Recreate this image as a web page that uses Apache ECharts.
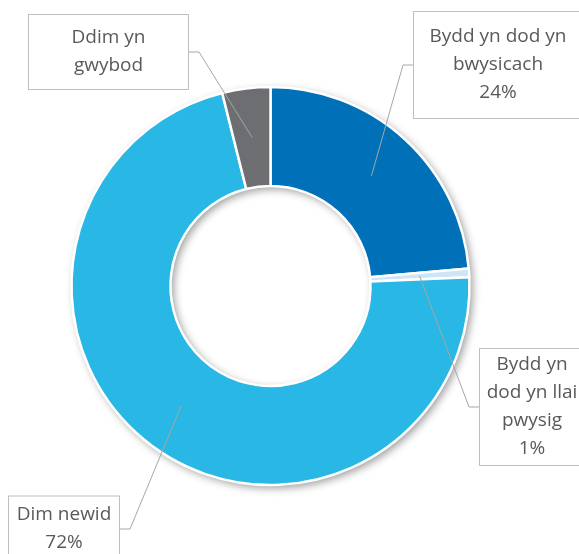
<!DOCTYPE html>
<html><head><meta charset="utf-8">
<script src="https://cdn.jsdelivr.net/npm/echarts@6/dist/echarts.min.js"></script>
<style>html,body{margin:0;padding:0;background:#fff}#c{width:579px;height:554px}</style>
</head><body><div id="c"></div>
<script>
const categories = ['Bydd yn dod yn bwysicach', 'Bydd yn dod yn llai pwysig', 'Dim newid', 'Ddim yn gwybod'];
const labelTexts = ['Bydd yn dod yn\nbwysicach', 'Bydd yn\ndod yn llai\npwysig', 'Dim newid', 'Ddim yn\ngwybod'];
const values = [23.6, 0.7, 71.8, 3.9];
const showPercent = [true, true, true, false];
const colors = ['#0070B9', '#CDE5F6', '#29B8E5', '#6D6E71'];

// label box layout (style only)
const labelBoxes = [
  { x: 498, y: 65, side: 'left', w: 168, pad: [11, 0, 11, 0] },
  { x: 532, y: 407, side: 'left', w: 104, pad: [2, 0, 2, 0] },
  { x: 64, y: 529, side: 'right', w: 110, pad: [4, 0, 5, 0] },
  { x: 108.5, y: 52, side: 'right', w: 159, pad: [9, 0, 9, 0] }
];

const chart = echarts.init(document.getElementById('c'), null, { renderer: 'canvas' });
const total = values.reduce((a, b) => a + b, 0);
const CENTER = [270.5, 286];
const RADIUS = [100, 199];

function fallbackLayout(i) {
  let s = 0;
  for (let k = 0; k < i; k++) s += values[k];
  const a0 = -Math.PI / 2 + s / total * Math.PI * 2;
  const a1 = a0 + values[i] / total * Math.PI * 2;
  return { cx: CENTER[0], cy: CENTER[1], r: RADIUS[1], r0: RADIUS[0], startAngle: a0, endAngle: a1 };
}

const sliceData = categories.map((name, i) => ({
  name: name,
  value: values[i],
  itemStyle: { color: colors[i] }
}));

const labelData = categories.map((name, i) => ({
  name: name,
  value: values[i],
  itemStyle: { color: 'rgba(0,0,0,0)' },
  label: {
    width: labelBoxes[i].w,
    padding: labelBoxes[i].pad
  }
}));

const option = {
  animation: false,
  series: [
    {
      type: 'pie',
      silent: true,
      z: 1,
      center: CENTER,
      radius: RADIUS,
      label: { show: false },
      labelLine: { show: false },
      itemStyle: {
        color: '#ffffff',
        shadowBlur: 9,
        shadowColor: 'rgba(0,0,0,0.4)',
        shadowOffsetX: 3,
        shadowOffsetY: 3
      },
      data: [{ value: 1, name: 'bg' }]
    },
    {
      type: 'pie',
      z: 2,
      silent: true,
      center: CENTER,
      radius: RADIUS,
      startAngle: 90,
      clockwise: true,
      emphasis: { disabled: true },
      itemStyle: { borderColor: '#ffffff', borderWidth: 2.5 },
      label: { show: false },
      labelLine: { show: false },
      data: sliceData
    },
    {
      type: 'pie',
      z: 3,
      silent: true,
      center: CENTER,
      radius: RADIUS,
      startAngle: 90,
      clockwise: true,
      avoidLabelOverlap: false,
      emphasis: { disabled: true },
      itemStyle: { borderWidth: 0 },
      label: {
        show: true,
        position: 'outside',
        color: '#595959',
        fontFamily: 'Open Sans',
        fontSize: 19,
        lineHeight: 28,
        align: 'center',
        backgroundColor: '#ffffff',
        borderColor: '#bfbfbf',
        borderWidth: 1,
        formatter: function (p) {
          const i = p.dataIndex;
          let t = labelTexts[i];
          if (showPercent[i]) t += '\n' + Math.round(p.value / total * 100) + '%';
          return t;
        }
      },
      labelLine: {
        show: true,
        length: 10,
        length2: 10,
        lineStyle: { color: '#a6a6a6', width: 1 }
      },
      labelLayout: function (p) {
        const i = p.dataIndex;
        const b = labelBoxes[i];
        let lay;
        try {
          lay = chart.getModel().getSeriesByIndex(p.seriesIndex).getData().getItemLayout(i);
        } catch (e) { lay = null; }
        if (!lay) lay = fallbackLayout(i);
        const mid = (lay.startAngle + lay.endAngle) / 2;
        const rm = (lay.r + lay.r0) / 2;
        const ax = lay.cx + rm * Math.cos(mid);
        const ay = lay.cy + rm * Math.sin(mid);
        const hw = p.labelRect.width / 2;
        const ex = b.side === 'left' ? b.x - hw : b.x + hw;
        const bx = b.side === 'left' ? ex - 10 : ex + 10;
        return {
          x: b.x, y: b.y, align: 'center', verticalAlign: 'middle',
          labelLinePoints: [[ax, ay], [bx, b.y], [ex, b.y]]
        };
      },
      data: labelData
    }
  ]
};
chart.setOption(option);
</script>
</body></html>
